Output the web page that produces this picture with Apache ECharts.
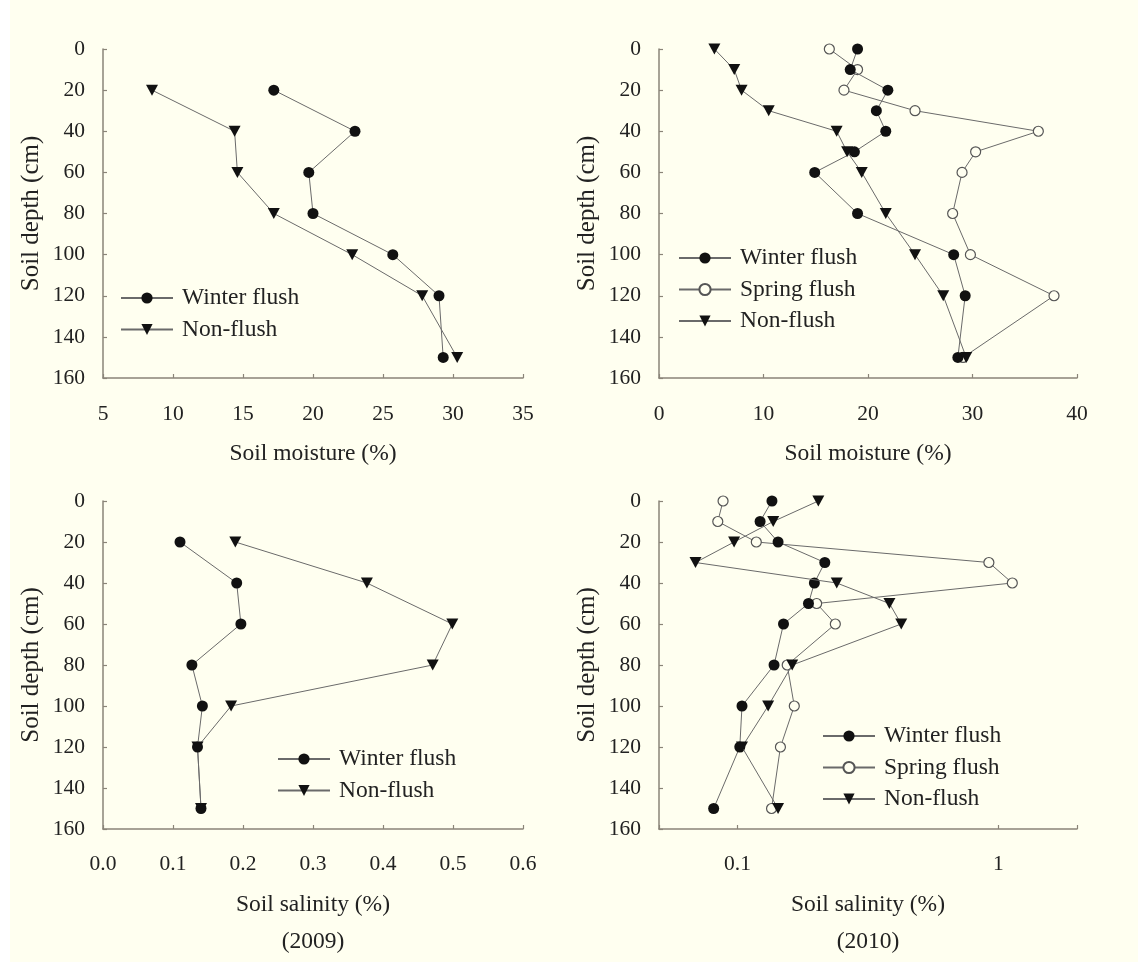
<!DOCTYPE html>
<html><head><meta charset="utf-8">
<script src="https://cdn.jsdelivr.net/npm/echarts@6.0.0/dist/echarts.min.js"></script>
<style>
html,body{margin:0;padding:0;background:linear-gradient(to right,#ffffff 10px,#FFFFF0 10px);}
#c{width:1138px;height:962px;}
</style>
</head><body><div id="c"></div>
<script>
// ---- data ----
const depths2009 = [20, 40, 60, 80, 100, 120, 150];
const depths2010 = [0, 10, 20, 30, 40, 50, 60, 80, 100, 120, 150];

const moist2009Winter = [17.2, 23.0, 19.7, 20.0, 25.7, 29.0, 29.3];
const moist2009Non    = [8.5, 14.4, 14.6, 17.2, 22.8, 27.8, 30.3];

const moist2010Winter = [19.0, 18.3, 21.9, 20.8, 21.7, 18.7, 14.9, 19.0, 28.2, 29.3, 28.6];
const moist2010Spring = [16.3, 19.0, 17.7, 24.5, 36.3, 30.3, 29.0, 28.1, 29.8, 37.8, 29.1];
const moist2010Non    = [5.3, 7.2, 7.9, 10.5, 17.0, 18.0, 19.4, 21.7, 24.5, 27.2, 29.4];

const sal2009Winter = [0.110, 0.191, 0.197, 0.127, 0.142, 0.135, 0.140];
const sal2009Non    = [0.189, 0.377, 0.499, 0.471, 0.183, 0.135, 0.140];

const sal2010Winter = [0.1355, 0.122, 0.143, 0.216, 0.197, 0.187, 0.150, 0.138, 0.104, 0.102, 0.081];
const sal2010Spring = [0.088, 0.084, 0.118, 0.919, 1.13, 0.201, 0.237, 0.155, 0.165, 0.146, 0.135];
const sal2010Non    = [0.204, 0.137, 0.097, 0.069, 0.240, 0.382, 0.424, 0.162, 0.131, 0.104, 0.143];

const depthTicks = [0, 160, 20];
const logTickLabels = [0.1, 1];

// ---- styling ----
const FONT = 'Liberation Serif';
const TXT = '#222';
const AXC = '#8a8478';
const LINEC = '#6a6a6a';
const BG = '#FFFFF0';

function pairs(xs, ys) { return xs.map((x, i) => [x, ys[i]]); }

const styles = {
  'Winter flush': { symbol: 'circle', symbolSize: 11, symbolRotate: 0, itemStyle: { color: '#111', borderWidth: 0 } },
  'Spring flush': { symbol: 'circle', symbolSize: 10, symbolRotate: 0, itemStyle: { color: BG, borderColor: '#555', borderWidth: 1.2 } },
  'Non-flush':    { symbol: 'triangle', symbolSize: [12, 11], symbolRotate: 180, itemStyle: { color: '#111', borderWidth: 0 } }
};

function ser(name, idx, xs, ys, z) {
  const s = styles[name];
  return {
    type: 'line', name: name, xAxisIndex: idx, yAxisIndex: idx,
    data: pairs(xs, ys), symbol: s.symbol, symbolSize: s.symbolSize, symbolRotate: s.symbolRotate,
    showAllSymbol: true, itemStyle: s.itemStyle, z: z,
    lineStyle: { color: LINEC, width: 1 }, animation: false, emphasis: { disabled: true }
  };
}

const tickCommon = {
  axisLine: { show: true, onZero: false, lineStyle: { color: AXC, width: 1.5 } },
  axisTick: { show: true, inside: true, length: 4, lineStyle: { color: AXC, width: 1.2 } },
  splitLine: { show: false },
  nameLocation: 'middle'
};

function xAx(idx, o) {
  const lab = Object.assign({ fontFamily: FONT, fontSize: 21.5, color: TXT, margin: 25 }, o.axisLabel || {});
  return Object.assign({}, tickCommon, {
    gridIndex: idx, position: 'bottom', nameGap: 57,
    nameTextStyle: { fontFamily: FONT, fontSize: 23.5, color: TXT, lineHeight: 37 }
  }, o, { axisLabel: lab });
}
function yAx(idx) {
  return Object.assign({}, tickCommon, {
    gridIndex: idx, type: 'value', inverse: true,
    min: depthTicks[0], max: depthTicks[1], interval: depthTicks[2],
    name: 'Soil depth (cm)', nameRotate: 90, nameGap: 59,
    nameTextStyle: { fontFamily: FONT, fontSize: 25, color: TXT },
    axisLabel: { fontFamily: FONT, fontSize: 21.5, color: TXT, margin: 18 }
  });
}

function leg(names, left, top) {
  return {
    data: names, orient: 'vertical', left: left, top: top,
    itemWidth: 52, itemHeight: 14, itemGap: 7.5, selectedMode: false,
    textStyle: { fontFamily: FONT, fontSize: 23.5, color: TXT, padding: [0, 0, 0, 4] }
  };
}

const option = {
  backgroundColor: 'transparent',
  animation: false,
  grid: [
    { left: 103, top: 49, width: 420, height: 329 },
    { left: 659, top: 49, width: 418, height: 329 },
    { left: 103, top: 501, width: 420, height: 328 },
    { left: 659, top: 501, width: 418, height: 328 }
  ],
  xAxis: [
    xAx(0, { type: 'value', min: 5, max: 35, interval: 5, name: 'Soil moisture (%)' }),
    xAx(1, { type: 'value', min: 0, max: 40, interval: 10, name: 'Soil moisture (%)' }),
    xAx(2, { type: 'value', min: 0, max: 0.6, interval: 0.1, name: 'Soil salinity (%)\n(2009)', nameGap: 57,
             axisLabel: { margin: 24, formatter: v => v.toFixed(1) } }),
    xAx(3, { type: 'log', logBase: 10, min: 0.05, max: 2, name: 'Soil salinity (%)\n(2010)', nameGap: 57,
             axisLabel: { margin: 24, formatter: v => { const m = logTickLabels.find(t => Math.abs(t - v) < 1e-6); return m === undefined ? '' : String(m); } } })
  ],
  yAxis: [yAx(0), yAx(1), yAx(2), yAx(3)],
  legend: [
    leg(['Winter flush', 'Non-flush'], 115, 281),
    leg(['Winter flush', 'Spring flush', 'Non-flush'], 673, 241),
    leg(['Winter flush', 'Non-flush'], 272, 742),
    leg(['Winter flush', 'Spring flush', 'Non-flush'], 817, 719)
  ],
  series: [
    ser('Winter flush', 0, moist2009Winter, depths2009, 3),
    ser('Non-flush', 0, moist2009Non, depths2009, 4),
    ser('Spring flush', 1, moist2010Spring, depths2010, 2),
    ser('Winter flush', 1, moist2010Winter, depths2010, 3),
    ser('Non-flush', 1, moist2010Non, depths2010, 4),
    ser('Non-flush', 2, sal2009Non, depths2009, 3),
    ser('Winter flush', 2, sal2009Winter, depths2009, 4),
    ser('Spring flush', 3, sal2010Spring, depths2010, 2),
    ser('Winter flush', 3, sal2010Winter, depths2010, 3),
    ser('Non-flush', 3, sal2010Non, depths2010, 4)
  ]
};

const chart = echarts.init(document.getElementById('c'), null, { renderer: 'canvas' });
chart.setOption(option);
</script>
</body></html>
